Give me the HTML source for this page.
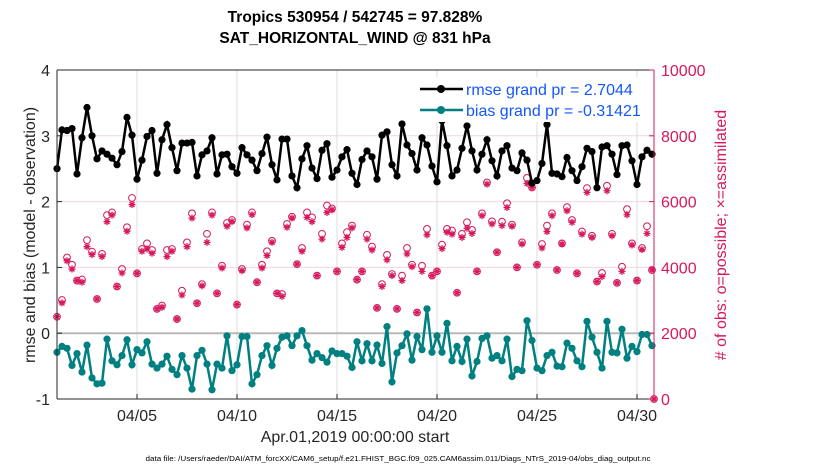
<!DOCTYPE html>
<html><head><meta charset="utf-8"><style>
html,body{margin:0;padding:0;background:#fff;width:830px;height:470px;overflow:hidden}
svg{display:block;font-family:"Liberation Sans",sans-serif}
</style></head><body>
<svg id="chart" width="830" height="470" viewBox="0 0 830 470" xmlns="http://www.w3.org/2000/svg">
<g id="grid"></g>
<g id="marks"></g>
<g id="axes"></g>
<text x="355" y="22" text-anchor="middle" font-size="15.5" font-weight="bold">Tropics 530954 / 542745 = 97.828%</text>
<text x="355" y="43" text-anchor="middle" font-size="15.5" font-weight="bold">SAT_HORIZONTAL_WIND @ 831 hPa</text>
<text x="355" y="442" text-anchor="middle" font-size="16" fill="#262626">Apr.01,2019 00:00:00 start</text>
<text transform="translate(35,235) rotate(-90)" text-anchor="middle" font-size="16" fill="#262626">rmse and bias (model - observation)</text>
<text transform="translate(726,235) rotate(-90)" text-anchor="middle" font-size="16" fill="#d6185c"># of obs: o=possible; ×=assimilated</text>
<text x="398" y="461" text-anchor="middle" font-size="7.6" fill="#000" textLength="505" lengthAdjust="spacingAndGlyphs">data file: /Users/raeder/DAI/ATM_forcXX/CAM6_setup/f.e21.FHIST_BGC.f09_025.CAM6assim.011/Diags_NTrS_2019-04/obs_diag_output.nc</text>
<g>
<rect x="414" y="77" width="238" height="45" fill="#fff"/>
<line x1="420" y1="89" x2="463" y2="89" stroke="#000" stroke-width="2.5"/>
<circle cx="441" cy="89" r="4" fill="#000"/>
<text x="466" y="95" font-size="16" fill="#1457ff">rmse grand pr = 2.7044</text>
<line x1="420" y1="110" x2="463" y2="110" stroke="#008080" stroke-width="2.5"/>
<circle cx="441" cy="110" r="4" fill="#008080"/>
<text x="466" y="116" font-size="16" fill="#1457ff">bias grand pr = -0.31421</text>
</g>
</svg>
<script>
const rmse=[2.50,3.09,3.08,3.11,2.42,2.97,3.43,3.00,2.65,2.77,2.72,2.66,2.56,2.76,3.28,3.01,2.34,2.63,2.99,3.08,
2.43,2.94,3.17,2.82,2.47,2.89,2.89,2.90,2.39,2.71,2.77,2.97,2.42,2.71,2.72,2.53,2.43,2.82,2.71,2.63,
2.47,2.73,2.98,2.56,2.33,2.95,2.95,2.39,2.21,2.65,2.85,2.51,2.35,2.78,2.88,2.37,2.48,2.68,2.79,2.43,
2.26,2.64,2.77,2.68,2.34,3.01,3.06,2.56,2.39,3.18,2.86,2.73,2.48,2.97,2.86,2.54,2.30,3.23,2.85,2.39,
2.48,2.81,3.15,2.77,2.48,2.72,2.94,2.62,2.39,2.77,2.85,2.51,2.47,2.74,2.63,2.28,2.32,2.58,3.17,2.43,
2.42,2.38,2.67,2.47,2.32,2.53,2.81,2.76,2.21,2.83,2.85,2.72,2.41,2.85,2.86,2.62,2.26,2.68,2.78,2.72];
const bias=[-0.29,-0.20,-0.23,-0.49,-0.31,-0.59,-0.18,-0.68,-0.77,-0.76,-0.09,-0.42,-0.48,-0.34,-0.10,-0.48,-0.25,-0.30,-0.13,-0.47,
-0.53,-0.47,-0.35,-0.55,-0.63,-0.34,-0.53,-0.85,-0.34,-0.26,-0.47,-0.86,-0.47,-0.53,-0.04,-0.57,-0.48,-0.05,-0.05,-0.77,
-0.63,-0.34,-0.19,-0.49,-0.23,-0.06,-0.04,-0.19,-0.04,0.04,-0.19,-0.41,-0.31,-0.37,-0.44,-0.27,-0.31,-0.31,-0.35,-0.52,
-0.13,-0.42,-0.16,-0.42,-0.18,-0.46,0.10,-0.74,-0.30,-0.19,-0.01,-0.41,-0.05,-0.25,0.37,-0.29,-0.04,-0.29,0.15,-0.42,
-0.20,-0.43,-0.09,-0.65,-0.43,-0.08,-0.04,-0.38,-0.34,-0.42,-0.09,-0.66,-0.55,-0.57,0.19,-0.11,-0.53,-0.57,-0.34,-0.29,
-0.50,-0.51,-0.15,-0.23,-0.42,-0.51,0.18,-0.06,-0.29,-0.53,0.18,-0.29,-0.30,0.06,-0.38,-0.20,-0.28,-0.02,-0.02,-0.19];
const possible=[2500,3010,4300,4080,3600,3630,4830,4480,3040,4410,5590,5670,3420,3950,5220,6110,3820,4560,4730,4530,
2740,2840,4530,4560,2430,3290,4760,5640,2910,3490,5020,5670,3210,4050,5350,5440,2870,3950,5300,5670,
3550,4080,4490,4810,3210,3190,5320,5540,4100,4590,5670,5520,3750,5020,5880,5790,3880,4730,5070,5270,
3630,3880,4990,4630,2770,3490,4380,3800,2740,3750,4590,4080,2630,4050,5170,3750,3880,4690,5170,5120,
3230,5020,5370,5140,3880,5640,6580,5400,4460,5390,5950,5300,4000,4760,6720,6430,4080,4710,5270,5640,
3920,4730,5830,5440,3820,5090,6410,4960,3570,3830,6480,5020,3530,4020,5770,4730,3600,4590,5250,3920,0];
const assimilated=[2500,2920,4200,3950,3600,3550,4630,4390,3040,4330,5390,5590,3420,3830,5100,5910,3820,4490,4560,4430,
2740,2790,4330,4490,2430,3160,4630,5500,2910,3440,4760,5590,3210,3980,5250,5390,2870,3900,5200,5600,
3550,3980,4360,4760,3210,3120,5220,5500,4100,4490,5520,5390,3750,4860,5670,5750,3880,4610,4910,5200,
3630,3880,4860,4530,2770,3420,4230,3750,2740,3600,4410,4020,2630,3880,4990,3750,3880,4570,5070,5010,
3230,4910,5190,5030,3880,5570,6530,5320,4460,5270,5820,5250,4000,4710,6550,6430,4080,4590,5090,5570,
3920,4710,5720,5370,3820,5010,6280,4910,3570,3720,6330,4960,3530,3880,5600,4680,3600,4540,5030,3920,0];
const xTickDays=[4,9,14,19,24,29];
const xTickLabels=["04/05","04/10","04/15","04/20","04/25","04/30"];
const yLeftTicks=[-1,0,1,2,3,4];
const yRightTicks=[0,2000,4000,6000,8000,10000];

const X0=57,X1=654,Y0=70,Y1=399,DAYMAX=29.85;
const sx=d=>X0+(d/DAYMAX)*(X1-X0);
const syL=v=>Y1-(v+1)/5*(Y1-Y0);
const syR=c=>Y1-c/10000*(Y1-Y0);
const dayOf=i=>i*0.25;
const NS="http://www.w3.org/2000/svg";
function mk(tag,attrs,parent){const e=document.createElementNS(NS,tag);for(const k in attrs)e.setAttribute(k,attrs[k]);parent.appendChild(e);return e;}
const grid=document.getElementById('grid'),marks=document.getElementById('marks'),axes=document.getElementById('axes');
mk('rect',{x:X0,y:Y0,width:X1-X0,height:Y1-Y0,fill:'#fff'},grid);
xTickDays.forEach(d=>{const l=mk('line',{x1:sx(d),x2:sx(d),y1:Y0,y2:Y1,stroke:'#dcdcdc','stroke-width':1},grid);

});
yRightTicks.forEach(c=>{const l=mk('line',{x1:X0,x2:X1,y1:syR(c),y2:syR(c),stroke:'#f2d6e0','stroke-width':1},grid);

});
const zl=mk('line',{x1:X0,x2:X1,y1:syL(0),y2:syL(0),stroke:'#b8b8b8','stroke-width':2},grid);


const mag='#d6185c';
possible.forEach((c,i)=>{const x=i<120?sx(dayOf(i)):X1,y=syR(c);
const o=mk('circle',{cx:x,cy:y,r:3.4,fill:'none',stroke:mag,'stroke-width':1},marks);

});
assimilated.forEach((c,i)=>{const x=i<120?sx(dayOf(i)):X1,y=syR(c),r=3.5;
const d=`M${x-r},${y}H${x+r}M${x},${y-r}V${y+r}M${x-r*0.7},${y-r*0.7}L${x+r*0.7},${y+r*0.7}M${x-r*0.7},${y+r*0.7}L${x+r*0.7},${y-r*0.7}`;
const t=mk('path',{d:d,stroke:mag,'stroke-width':1.3,fill:'none'},marks);

});
function series(arr,col,name){
const p=mk('polyline',{points:arr.map((v,i)=>sx(dayOf(i))+','+syL(v)).join(' '),fill:'none',stroke:col,'stroke-width':2.5},marks);


arr.forEach((v,i)=>{const c=mk('circle',{cx:sx(dayOf(i)),cy:syL(v),r:3.6,fill:col},marks);

});}
series(rmse,'#000','rmse');
series(bias,'#008080','bias');
mk('line',{x1:X0,x2:X0,y1:Y0,y2:Y1,stroke:'#262626','stroke-width':1},axes);
mk('line',{x1:X0,x2:X1,y1:Y1,y2:Y1,stroke:'#262626','stroke-width':1},axes);
mk('line',{x1:X0,x2:X1,y1:Y0,y2:Y0,stroke:'#262626','stroke-width':1},axes);
mk('line',{x1:X1,x2:X1,y1:Y0,y2:Y1,stroke:mag,'stroke-width':1},axes);
xTickDays.forEach((d,k)=>{mk('line',{x1:sx(d),x2:sx(d),y1:Y1,y2:Y1-5,stroke:'#262626'},axes);
const t=mk('text',{x:sx(d),y:Y1+22,'text-anchor':'middle','font-size':16,fill:'#262626'},axes);t.textContent=xTickLabels[k];

});
yLeftTicks.forEach(v=>{mk('line',{x1:X0,x2:X0+5,y1:syL(v),y2:syL(v),stroke:'#262626'},axes);
const t=mk('text',{x:X0-7,y:syL(v)+6,'text-anchor':'end','font-size':16,fill:'#262626'},axes);t.textContent=String(v);

});
yRightTicks.forEach(c=>{mk('line',{x1:X1,x2:X1-5,y1:syR(c),y2:syR(c),stroke:mag},axes);
const t=mk('text',{x:X1+7,y:syR(c)+6,'text-anchor':'start','font-size':16,fill:mag},axes);t.textContent=String(c);

});
</script>
</body></html>
